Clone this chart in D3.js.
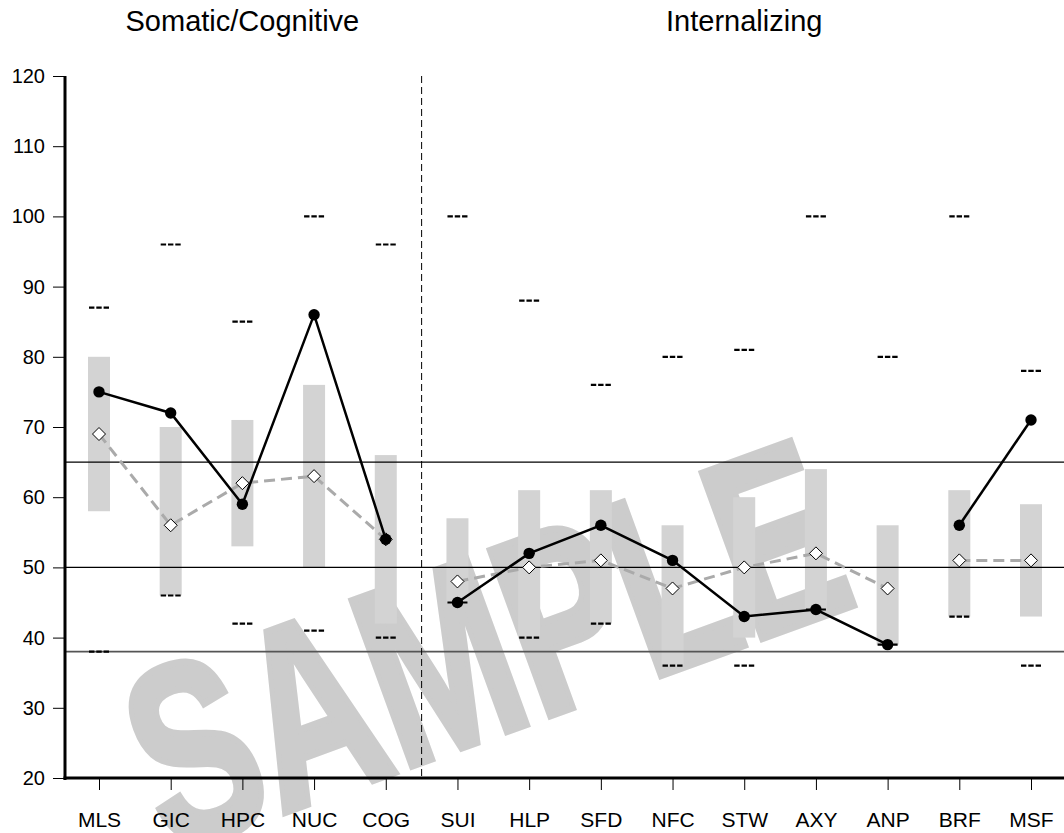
<!DOCTYPE html>
<html>
<head>
<meta charset="utf-8">
<script src="https://cdn.jsdelivr.net/npm/d3@7"></script>
<style>
  body { margin: 0; background: #fff; }
  svg { display: block; }
  text { font-family: "Liberation Sans", Arial, Helvetica, sans-serif; }
</style>
</head>
<body>
<div id="chart"></div>
<script>
// scale profile values
var cats    = ["MLS","GIC","HPC","NUC","COG","SUI","HLP","SFD","NFC","STW","AXY","ANP","BRF","MSF"];
var segment = [0,0,0,0,0,1,1,1,1,1,1,1,2,2];   // line breaks between groups
var scores  = [75,72,59,86,54,45,52,56,51,43,44,39,56,71];
var means   = [69,56,62,63,54,48,50,51,47,50,52,47,51,51];
var bandLo  = [58,46,53,50,42,45,40,42,36,40,44,39,43,43];
var bandHi  = [80,70,71,76,66,57,61,61,56,60,64,56,61,59];
var dashHi  = [87,96,85,100,96,100,88,76,80,81,100,80,100,78];
var dashLo  = [38,46,42,41,40,45,40,42,36,36,44,39,43,36];
var refLines = [65,50,38];
var yTicks = [20,30,40,50,60,70,80,90,100,110,120];
var groups = [
  {title: "Somatic/Cognitive", from: "MLS", to: "COG"},
  {title: "Internalizing", from: "SUI", to: "MSF"}
];

var W = 1064, H = 833;
var pl = 65, pr = 1064, pt = 76, pb = 778;

var svg = d3.select("#chart").append("svg")
    .attr("width", W)
    .attr("height", H);

var x = d3.scalePoint().domain(cats).range([99, 1031]);
var y = d3.scaleLinear().domain([20, 120]).range([pb, pt]);

// watermark
svg.append("text")
    .attr("transform", "translate(484,642) rotate(-20) scale(0.69,1)")
    .attr("text-anchor", "middle")
    .attr("dy", "0.36em")
    .style("font-size", "256px")
    .style("font-weight", "bold")
    .style("fill", "#cccccc")
    .style("stroke", "#cccccc")
    .style("stroke-width", 7)
    .style("stroke-linejoin", "miter")
    .text("SAMPLE");

var rows = cats.map(function(c, i) {
  return {cat: c, seg: segment[i], score: scores[i], mean: means[i],
          lo: bandLo[i], hi: bandHi[i], dHi: dashHi[i], dLo: dashLo[i]};
});

// gray bands
svg.selectAll(".band")
  .data(rows)
  .enter().append("rect")
    .attr("class", "band")
    .attr("x", function(d) { return x(d.cat) - 11; })
    .attr("width", 22)
    .attr("y", function(d) { return y(d.hi); })
    .attr("height", function(d) { return y(d.lo) - y(d.hi); })
    .style("fill", "#d3d3d3");

// reference lines
svg.selectAll(".ref")
  .data(refLines)
  .enter().append("line")
    .attr("x1", pl).attr("x2", pr)
    .attr("y1", function(d) { return y(d); })
    .attr("y2", function(d) { return y(d); })
    .style("stroke", function(d) { return d == 38 ? "#555" : "#000"; })
    .style("stroke-width", function(d) { return d == 38 ? 1.8 : 1.1; });

// group divider
var divX = (x("COG") + x("SUI")) / 2;
svg.append("line")
    .attr("x1", divX).attr("x2", divX)
    .attr("y1", pt).attr("y2", pb)
    .style("stroke", "#000")
    .style("stroke-width", 1)
    .style("stroke-dasharray", "7,4");

// group titles
svg.selectAll(".gtitle")
  .data(groups)
  .enter().append("text")
    .attr("x", function(d) { return (x(d.from) + x(d.to)) / 2; })
    .attr("y", 31)
    .attr("text-anchor", "middle")
    .style("font-size", "29px")
    .text(function(d) { return d.title; });

// "---" limit marks
function dashMarks(key) {
  svg.selectAll(".dash-" + key)
    .data(rows)
    .enter().append("line")
      .attr("x1", function(d) { return x(d.cat) - 10; })
      .attr("x2", function(d) { return x(d.cat) + 10; })
      .attr("y1", function(d) { return y(d[key]); })
      .attr("y2", function(d) { return y(d[key]); })
      .style("stroke", "#000")
      .style("stroke-width", 2.2)
      .style("stroke-dasharray", "5.4,1.9");
}
dashMarks("dHi");
dashMarks("dLo");

var segs = d3.groups(rows, function(d) { return d.seg; });

// mean line (gray dashed)
var meanLine = d3.line().x(function(d) { return x(d.cat); }).y(function(d) { return y(d.mean); });
svg.selectAll(".meanline")
  .data(segs)
  .enter().append("path")
    .attr("d", function(s) { return meanLine(s[1]); })
    .style("fill", "none")
    .style("stroke", "#aaaaaa")
    .style("stroke-width", 3)
    .style("stroke-dasharray", "11,6");

// score line
var scoreLine = d3.line().x(function(d) { return x(d.cat); }).y(function(d) { return y(d.score); });
svg.selectAll(".scoreline")
  .data(segs)
  .enter().append("path")
    .attr("d", function(s) { return scoreLine(s[1]); })
    .style("fill", "none")
    .style("stroke", "#000")
    .style("stroke-width", 2.5);

// diamonds
svg.selectAll(".diamond")
  .data(rows)
  .enter().append("path")
    .attr("transform", function(d) { return "translate(" + x(d.cat) + "," + y(d.mean) + ")"; })
    .attr("d", "M0,-6.5L6.5,0L0,6.5L-6.5,0Z")
    .style("fill", "#fff")
    .style("stroke", "#000")
    .style("stroke-width", 1);

// score dots
svg.selectAll(".dot")
  .data(rows)
  .enter().append("circle")
    .attr("cx", function(d) { return x(d.cat); })
    .attr("cy", function(d) { return y(d.score); })
    .attr("r", 5.7)
    .style("fill", "#000");

// axes
var yAxis = svg.append("g")
    .attr("transform", "translate(" + (pl - 1) + ",0)")
    .call(d3.axisLeft(y).tickValues(yTicks).tickSize(11).tickPadding(8));
var xAxis = svg.append("g")
    .attr("transform", "translate(0," + (pb + 1) + ")")
    .call(d3.axisBottom(x).tickSize(11).tickPadding(22));

yAxis.select(".domain").remove();
xAxis.select(".domain").remove();
svg.selectAll(".tick line").style("stroke", "#000").style("stroke-width", 1);
yAxis.selectAll(".tick text").style("font-size", "20px").style("fill", "#000");
xAxis.selectAll(".tick text").style("font-size", "21px").style("fill", "#000");

svg.append("line")
    .attr("x1", pl).attr("x2", pl)
    .attr("y1", pt).attr("y2", pb + 2)
    .style("stroke", "#000").style("stroke-width", 3);
svg.append("line")
    .attr("x1", pl - 1.5).attr("x2", pr)
    .attr("y1", pb).attr("y2", pb)
    .style("stroke", "#000").style("stroke-width", 3);
</script>
</body>
</html>
